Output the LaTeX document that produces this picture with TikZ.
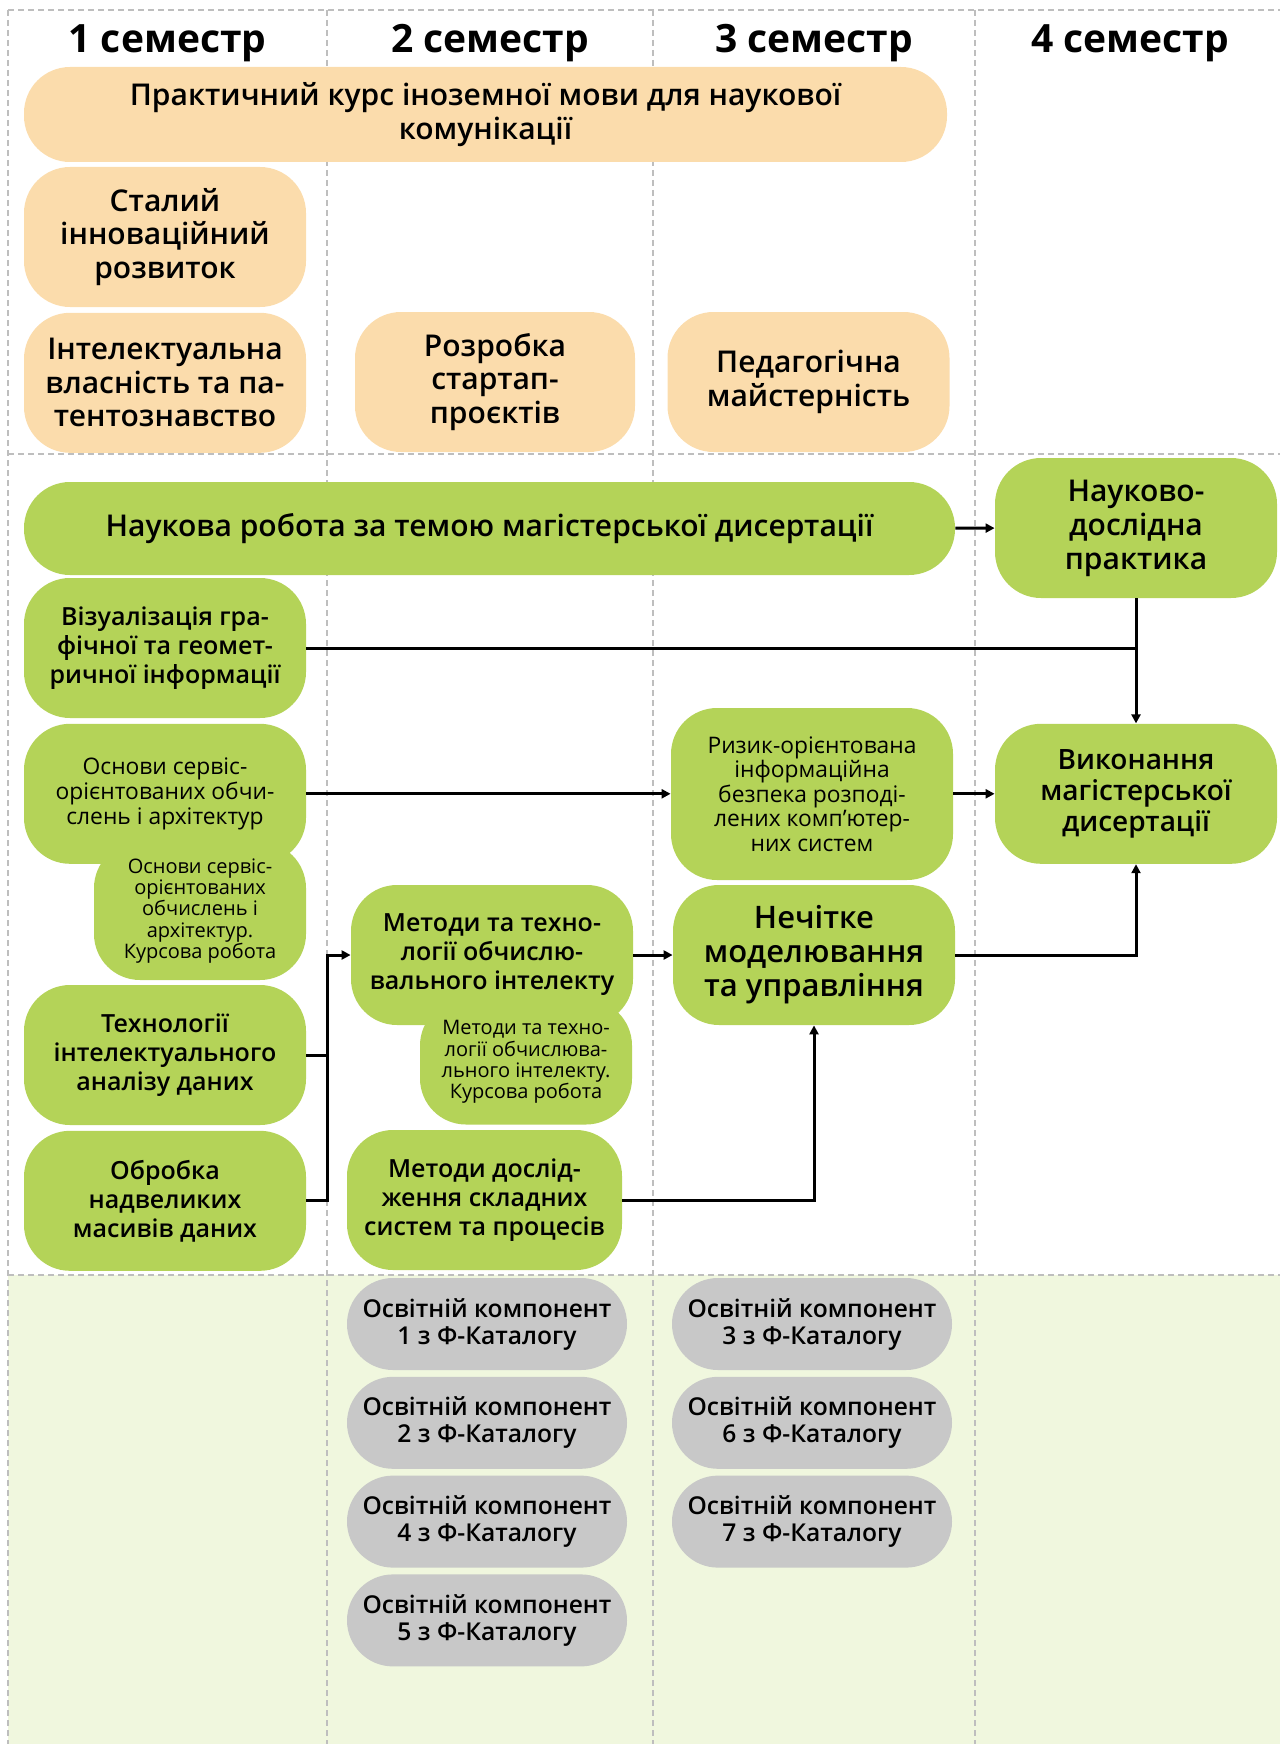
\documentclass[tikz,border=0pt]{standalone}
\usepackage{fontspec}
\setmainfont{Open Sans}
\IfFontExistsTF{Open Sans Semibold}{\newfontfamily\semib{Open Sans Semibold}}{\newcommand\semib{\bfseries}}
\usetikzlibrary{arrows.meta, positioning, calc}
\definecolor{peachc}{RGB}{251,220,172}
\definecolor{greenc}{RGB}{180,211,88}
\definecolor{greyc}{RGB}{200,200,200}
\definecolor{bgc}{RGB}{240,247,222}
\definecolor{gridc}{RGB}{190,190,190}

\begin{document}
\begin{tikzpicture}[
    x=0.5pt, y=-0.5pt,
    node distance=2.5pt,
    box/.style={rectangle, rounded corners=23pt, minimum width=141pt, minimum height=70pt, inner sep=0pt, align=center},
    peach/.style={box, fill=peachc, font=\fontsize{15pt}{16.7pt}\selectfont\semib},
    subj/.style={box, fill=greenc, font=\fontsize{12.5pt}{14.5pt}\selectfont\semib},
    subjbig/.style={box, fill=greenc, font=\fontsize{15pt}{17pt}\selectfont\semib},
    subjsm/.style={box, fill=greenc, font=\fontsize{11.4pt}{12.3pt}\selectfont},
    course/.style={box, fill=greenc, minimum width=106pt, font=\fontsize{10pt}{10.6pt}\selectfont},
    fcat/.style={box, fill=greyc, minimum width=140pt, minimum height=46pt, font=\fontsize{12.3pt}{13.5pt}\selectfont\semib},
    head/.style={font=\fontsize{19.5pt}{21pt}\selectfont\bfseries, inner sep=0pt},
    grid/.style={draw=gridc, line width=0.6pt, dash pattern=on 3pt off 2pt},
    conn/.style={line width=1.5pt},
    arrow/.style={-{Triangle[length=4.5pt,width=4.5pt]}, line width=1.5pt}
]
\useasboundingbox (0,0) rectangle (1280,1744);

% Фон і сітка семестрів
\fill[bgc] (8,1275) rectangle (1280,1744);
\foreach \x in {8,327,653,975} \draw[grid] (\x,10) -- (\x,1744);
\foreach \y in {10,454,1275} \draw[grid] (8,\y) -- (1280,\y);

\foreach \x/\n in {167.5/1, 490/2, 814/3, 1130/4}
    \node[head, anchor=base] (h\n) at (\x,53) {\n\ семестр};

% Загальна підготовка
\node[peach, minimum width=461.5pt, minimum height=47.5pt] (prak) at (485.5,114.5) {Практичний курс іноземної мови для наукової\\комунікації};
\node[peach] (stal) at (165,237) {Сталий\\інноваційний\\розвиток};
\node[peach, below=of stal] (intel) {Інтелектуальна\\власність та па-\\тентознавство};
\node[peach, minimum width=140pt] (rozr) at (495,382) {Розробка\\стартап-\\проєктів};
\node[peach] (ped) at (808.5,382) {Педагогічна\\майстерність};

% Професійна підготовка
\node[subjbig, minimum width=465.5pt, minimum height=46.5pt] (nauk) at (489.5,528.5) {Наукова робота за темою магістерської дисертації};
\node[subjbig] (ndp) at (1136,528) {Науково-\\дослідна\\практика};
\node[subjbig, font=\fontsize{14pt}{15.3pt}\selectfont\semib, below=62.5pt of ndp] (vyk) {Виконання\\магістерської\\дисертації};

\node[subj] (viz) at (165,648) {Візуалізація гра-\\фічної та геомет-\\ричної інформації};
\node[subjsm, below=of viz] (osn) {Основи сервіс-\\орієнтованих обчи-\\слень і архітектур};
\node[course, minimum height=69pt] (osnk) at (200,911) {Основи сервіс-\\орієнтованих\\обчислень і\\архітектур.\\Курсова робота};
\node[subj] (tekh) at (165,1055) {Технології\\інтелектуального\\аналізу даних};
\node[subj, below=of tekh] (obr) {Обробка\\надвеликих\\масивів даних};

\node[subj] (metob) at (492,955) {Методи та техно-\\логії обчислю-\\вального інтелекту};
\node[course, minimum height=62.5pt] (metobk) at (526,1062) {Методи та техно-\\логії обчислюва-\\льного інтелекту.\\Курсова робота};
\node[subj, minimum width=137.5pt] (metdos) at (484.5,1200) {Методи дослід-\\ження складних\\систем та процесів};

\node[subjsm, minimum height=86pt] (ryz) at (812,794) {Ризик-орієнтована\\інформаційна\\безпека розподі-\\лених комп’ютер-\\них систем};
\node[subjbig, font=\fontsize{15.5pt}{17pt}\selectfont\semib] (nech) at (814,955) {Нечітке\\моделювання\\та управління};

% Вибіркові компоненти
\node[fcat] (f1) at (487,1324) {Освітній компонент\\1 з Ф-Каталогу};
\node[fcat, below=3pt of f1] (f2) {Освітній компонент\\2 з Ф-Каталогу};
\node[fcat, below=3pt of f2] (f4) {Освітній компонент\\4 з Ф-Каталогу};
\node[fcat, below=3pt of f4] (f5) {Освітній компонент\\5 з Ф-Каталогу};
\node[fcat] (f3) at (812,1324) {Освітній компонент\\3 з Ф-Каталогу};
\node[fcat, below=3pt of f3] (f6) {Освітній компонент\\6 з Ф-Каталогу};
\node[fcat, below=3pt of f6] (f7) {Освітній компонент\\7 з Ф-Каталогу};

% Зв'язки
\coordinate (join) at (viz.east -| ndp.south);
\coordinate (bus) at ($(obr.east)+(10.5pt,0)$);
\draw[arrow] (nauk) -- (ndp);
\draw[arrow] (ndp) -- (vyk);
\draw[conn] (viz.east) -- (join);
\draw[arrow] (osn.east) -- (ryz.west |- osn.east);
\draw[arrow] (ryz.east |- vyk.west) -- (vyk.west);
\draw[arrow] (nech.east) -| (vyk.south);
\draw[arrow] (metob) -- (nech);
\draw[conn] (tekh.east) -- (tekh.east -| bus);
\draw[arrow] (obr.east) -- (bus) |- (metob.west);
\draw[arrow] (metdos.east) -| (nech.south);

\end{tikzpicture}
\end{document}
